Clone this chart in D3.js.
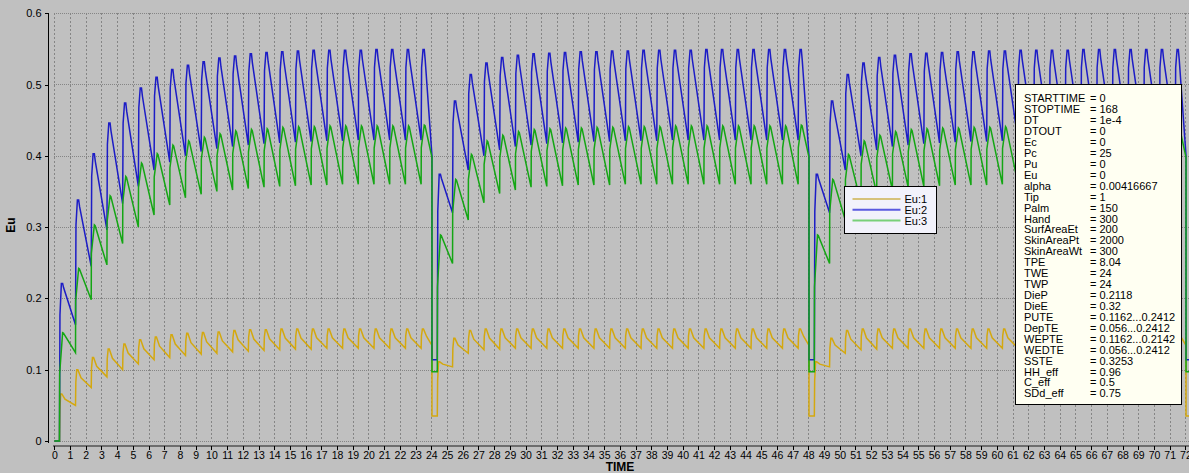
<!DOCTYPE html>
<html>
<head>
<meta charset="utf-8">
<script src="https://cdn.jsdelivr.net/npm/d3@7"></script>
<style>
  html, body { margin: 0; padding: 0; background: #c0c0c0; }
  svg { display: block; font-family: "Liberation Sans", Arial, sans-serif; }
</style>
</head>
<body>
<svg id="chart" width="1189" height="473"></svg>
<script>
// ---- data -------------------------------------------------------------
// Start of each simulated day (hours)
const dayStarts = [0, 24, 48];
const euTicks = [0, 0.1, 0.2, 0.3, 0.4, 0.5, 0.6];
const seriesNames = ["Eu:1", "Eu:2", "Eu:3"];

// Hourly peak value and end-of-hour value (24 per day, 3 days)
const eu1Peak = [
  0.066, 0.100, 0.117, 0.129, 0.136, 0.142, 0.146, 0.149, 0.151, 0.152, 0.153, 0.155,
  0.156, 0.156, 0.157, 0.157, 0.157, 0.157, 0.157, 0.157, 0.157, 0.157, 0.157, 0.157,
  0.111, 0.144, 0.155, 0.157, 0.157, 0.157, 0.157, 0.157, 0.157, 0.157, 0.157, 0.157,
  0.157, 0.157, 0.157, 0.157, 0.157, 0.157, 0.157, 0.157, 0.157, 0.157, 0.157, 0.157,
  0.111, 0.144, 0.155, 0.157, 0.157, 0.157, 0.157, 0.157, 0.157, 0.157, 0.157, 0.157,
  0.157, 0.157, 0.157, 0.157, 0.157, 0.157, 0.157, 0.157, 0.157, 0.157, 0.157, 0.157
];
const eu1Trough = [
  0.050, 0.075, 0.090, 0.100, 0.108, 0.114, 0.117, 0.120, 0.122, 0.123, 0.125, 0.126,
  0.127, 0.128, 0.129, 0.129, 0.130, 0.130, 0.130, 0.130, 0.130, 0.130, 0.130, 0.134,
  0.104, 0.123, 0.128, 0.129, 0.130, 0.130, 0.130, 0.130, 0.130, 0.130, 0.130, 0.130,
  0.130, 0.130, 0.130, 0.130, 0.130, 0.130, 0.130, 0.130, 0.130, 0.130, 0.130, 0.134,
  0.104, 0.123, 0.128, 0.129, 0.130, 0.130, 0.130, 0.130, 0.130, 0.130, 0.130, 0.130,
  0.130, 0.130, 0.130, 0.130, 0.130, 0.130, 0.130, 0.130, 0.130, 0.130, 0.130, 0.134
];
const eu2Peak = [
  0.221, 0.338, 0.403, 0.446, 0.474, 0.495, 0.510, 0.521, 0.527, 0.532, 0.537, 0.540,
  0.543, 0.545, 0.546, 0.547, 0.548, 0.548, 0.548, 0.548, 0.549, 0.549, 0.549, 0.549,
  0.374, 0.477, 0.514, 0.530, 0.538, 0.541, 0.543, 0.544, 0.545, 0.546, 0.546, 0.547,
  0.547, 0.548, 0.548, 0.548, 0.548, 0.549, 0.549, 0.549, 0.549, 0.549, 0.549, 0.549,
  0.374, 0.477, 0.514, 0.530, 0.538, 0.541, 0.543, 0.544, 0.545, 0.546, 0.546, 0.547,
  0.547, 0.548, 0.548, 0.548, 0.548, 0.549, 0.549, 0.549, 0.549, 0.549, 0.549, 0.549
];
const eu2Trough = [
  0.163, 0.245, 0.296, 0.333, 0.357, 0.380, 0.391, 0.400, 0.406, 0.410, 0.413, 0.415,
  0.417, 0.418, 0.419, 0.420, 0.421, 0.421, 0.422, 0.422, 0.422, 0.422, 0.422, 0.400,
  0.320, 0.380, 0.400, 0.408, 0.413, 0.415, 0.417, 0.418, 0.419, 0.420, 0.420, 0.421,
  0.421, 0.421, 0.422, 0.422, 0.422, 0.422, 0.422, 0.422, 0.422, 0.422, 0.422, 0.400,
  0.320, 0.380, 0.400, 0.408, 0.413, 0.415, 0.417, 0.418, 0.419, 0.420, 0.420, 0.421,
  0.421, 0.421, 0.422, 0.422, 0.422, 0.422, 0.422, 0.422, 0.422, 0.422, 0.422, 0.400
];
const eu3Peak = [
  0.152, 0.242, 0.303, 0.344, 0.371, 0.390, 0.403, 0.415, 0.421, 0.426, 0.431, 0.435,
  0.437, 0.438, 0.440, 0.441, 0.441, 0.442, 0.442, 0.442, 0.442, 0.442, 0.442, 0.443,
  0.289, 0.367, 0.402, 0.421, 0.429, 0.434, 0.437, 0.438, 0.439, 0.439, 0.440, 0.440,
  0.441, 0.441, 0.441, 0.442, 0.442, 0.442, 0.442, 0.442, 0.442, 0.442, 0.442, 0.443,
  0.289, 0.367, 0.402, 0.421, 0.429, 0.434, 0.437, 0.438, 0.439, 0.439, 0.440, 0.440,
  0.441, 0.441, 0.441, 0.442, 0.442, 0.442, 0.442, 0.442, 0.442, 0.442, 0.442, 0.443
];
const eu3Trough = [
  0.124, 0.198, 0.247, 0.277, 0.300, 0.317, 0.331, 0.341, 0.346, 0.350, 0.352, 0.354,
  0.356, 0.357, 0.358, 0.359, 0.359, 0.360, 0.360, 0.360, 0.360, 0.360, 0.360, 0.398,
  0.249, 0.310, 0.334, 0.347, 0.352, 0.356, 0.357, 0.358, 0.359, 0.359, 0.359, 0.360,
  0.360, 0.360, 0.360, 0.360, 0.360, 0.360, 0.360, 0.360, 0.360, 0.360, 0.360, 0.398,
  0.249, 0.310, 0.334, 0.347, 0.352, 0.356, 0.357, 0.358, 0.359, 0.359, 0.359, 0.360,
  0.360, 0.360, 0.360, 0.360, 0.360, 0.360, 0.360, 0.360, 0.360, 0.360, 0.360, 0.398
];
// Level each output falls to at the day boundary
const dropLevels = [0.035, 0.114, 0.097];

const paramNames = ["STARTTIME", "STOPTIME", "DT", "DTOUT", "Ec", "Pc", "Pu", "Eu", "alpha",
  "Tip", "Palm", "Hand", "SurfAreaEt", "SkinAreaPt", "SkinAreaWt", "TPE", "TWE", "TWP",
  "DieP", "DieE", "PUTE", "DepTE", "WEPTE", "WEDTE", "SSTE", "HH_eff", "C_eff", "SDd_eff"];
const paramValues = ["0", "168", "1e-4", "0", "0", "25", "0", "0", "0.00416667",
  "1", "150", "300", "200", "2000", "300", "8.04", "24", "24",
  "0.2118", "0.32", "0.1162...0.2412", "0.056...0.2412", "0.1162...0.2142", "0.056...0.2412",
  "0.3253", "0.96", "0.5", "0.75"];

// ---- timing of the hourly cycle --------------------------------------
const firstRise = 0.33;   // first dose of day one
const hourRise = 0.35;    // dose time within each hour
const dayDrop = 0.04;     // reset just after midnight
const dayRestart = 0.38;  // first dose after the reset

// Shape of one hourly cycle for each output: [kind, dt, fraction].
// kind "r": prev + f*(peak-prev); kind "p": peak - f*(peak-trough)
const shapes = [
  [["r", 0.02, 0.65], ["p", 0.08, 0], ["p", 0.15, 0], ["p", 0.35, 0.45]],
  [["r", 0.03, 0.8], ["p", 0.12, 0], ["p", 0.2, 0], ["p", 0.26, 0.1]],
  [["r", 0.01, 0.62], ["p", 0.2, 0], ["p", 0.25, 0.02]]
];

function buildSeries(peaks, troughs, low, shape) {
  const pts = [[0, 0]];
  let prev = 0;
  dayStarts.forEach((d0, di) => {
    let start;
    if (di === 0) {
      start = d0 + firstRise;
    } else {
      pts.push([d0 + dayDrop, low]);
      prev = low;
      start = d0 + dayRestart;
    }
    for (let n = 0; n < 24; n++) {
      const i = di * 24 + n;
      const pk = peaks[i], tr = troughs[i];
      const t0 = n === 0 ? start : d0 + n + hourRise;
      const tEnd = n === 23 ? d0 + 24 + dayDrop : d0 + n + 1 + hourRise;
      pts.push([t0, prev]);
      shape.forEach(([kind, dt, f]) => {
        const v = kind === "r" ? prev + f * (pk - prev) : pk - f * (pk - tr);
        pts.push([t0 + dt, v]);
      });
      pts.push([tEnd, tr]);
      prev = tr;
    }
  });
  pts.push([72 + dayDrop, low]);
  pts.push([72.4, low]);
  return pts;
}

const series = [
  { name: seriesNames[0], color: "#d4a80e", legend: "#d6c27a", pts: buildSeries(eu1Peak, eu1Trough, dropLevels[0], shapes[0]) },
  { name: seriesNames[1], color: "#1c1cc6", legend: "#5a5ae0", pts: buildSeries(eu2Peak, eu2Trough, dropLevels[1], shapes[1]) },
  { name: seriesNames[2], color: "#14a614", legend: "#78d078", pts: buildSeries(eu3Peak, eu3Trough, dropLevels[2], shapes[2]) }
];

// ---- drawing --------------------------------------------------------------
const svg = d3.select("#chart");
const W = 1189, H = 473;
const x = d3.scaleLinear().domain([0, 72]).range([54.3, 1185.4]);
const y = d3.scaleLinear().domain([0, 0.6]).range([441, 13.2]);

svg.append("rect").attr("width", W).attr("height", H).attr("fill", "#c0c0c0");

svg.append("defs").append("clipPath").attr("id", "plot")
  .append("rect").attr("x", 54).attr("y", 0).attr("width", W - 54).attr("height", 444);

// grid
const grid = svg.append("g").attr("stroke", "#858585").attr("stroke-width", 1)
  .attr("shape-rendering", "crispEdges");
grid.selectAll("line.v").data(x.ticks(72)).join("line")
  .attr("stroke-dasharray", "2,2")
  .attr("x1", d => Math.round(x(d)) + 0.5).attr("x2", d => Math.round(x(d)) + 0.5)
  .attr("y1", y(0.6)).attr("y2", y(0));
grid.selectAll("line.h").data(euTicks).join("line")
  .attr("stroke-dasharray", "1,1")
  .attr("x1", x(0)).attr("x2", W)
  .attr("y1", d => Math.round(y(d)) + 0.5).attr("y2", d => Math.round(y(d)) + 0.5);

// x axis
const xAxisG = svg.append("g").attr("transform", "translate(0,445)");
xAxisG.append("rect").attr("x", 53).attr("y", 0).attr("width", W - 53).attr("height", 2).attr("fill", "#6e6e6e");
const xAxis = d3.axisBottom(x).tickValues(d3.range(0, 73)).tickFormat(d3.format("d")).tickSize(4).tickPadding(2);
const xg = xAxisG.append("g").attr("transform", "translate(0,1)").call(xAxis);
xg.select(".domain").remove();
xg.selectAll(".tick line").attr("stroke", "#000").attr("shape-rendering", "crispEdges");
xg.selectAll(".tick text").attr("fill", "#000").attr("font-size", 10.5).attr("font-family", "Liberation Sans, Arial, sans-serif");

// y axis
const yAxis = d3.axisLeft(y).tickValues(euTicks).tickFormat(d => d === 0 ? "0" : d3.format(".1f")(d)).tickSize(4).tickPadding(3);
const yg = svg.append("g").attr("transform", "translate(48.5,0)").call(yAxis);
yg.select(".domain").attr("d", `M0,${y(0.6)}V${y(0) + 2}`).attr("stroke", "#000").attr("shape-rendering", "crispEdges");
yg.selectAll(".tick line").attr("stroke", "#000").attr("shape-rendering", "crispEdges");
yg.selectAll(".tick text").attr("fill", "#000").attr("font-size", 11).attr("font-family", "Liberation Sans, Arial, sans-serif");

// axis titles
svg.append("text").attr("x", 620).attr("y", 471).attr("text-anchor", "middle")
  .attr("font-size", 12).attr("font-weight", "bold").text("TIME");
svg.append("text").attr("transform", "translate(15,225) rotate(-90)").attr("text-anchor", "middle")
  .attr("font-size", 12).attr("font-weight", "bold").text("Eu");

// series
const line = d3.line().x(d => x(d[0])).y(d => y(d[1]));
const lines = svg.append("g").attr("clip-path", "url(#plot)");
series.forEach(s => {
  lines.append("path").datum(s.pts).attr("d", line)
    .attr("fill", "none").attr("stroke", s.color).attr("stroke-width", 1.5)
    .attr("stroke-linejoin", "miter");
});

// legend
const lg = svg.append("g").attr("transform", "translate(844.5,186.5)");
lg.append("rect").attr("width", 92).attr("height", 47).attr("fill", "#f2f2fb").attr("stroke", "#000");
series.forEach((s, i) => {
  const ly = 12.5 + i * 10.8;
  lg.append("line").attr("x1", 8).attr("x2", 56).attr("y1", ly).attr("y2", ly)
    .attr("stroke", s.legend).attr("stroke-width", 2);
  lg.append("text").attr("x", 60).attr("y", ly + 4).attr("font-size", 11).attr("fill", "#000").text(s.name);
});

// parameter box
const pb = svg.append("g").attr("transform", "translate(1015.5,84.5)");
pb.append("rect").attr("width", 166).attr("height", 320).attr("fill", "#fffff2").attr("stroke", "#000");
paramNames.forEach((nm, i) => {
  const ty = 17.8 + i * 10.93;
  pb.append("text").attr("x", 8.5).attr("y", ty).attr("font-size", 11).attr("fill", "#000").text(nm);
  pb.append("text").attr("x", 74.5).attr("y", ty).attr("font-size", 11).attr("fill", "#000").text("= " + paramValues[i]);
});
</script>
</body>
</html>
